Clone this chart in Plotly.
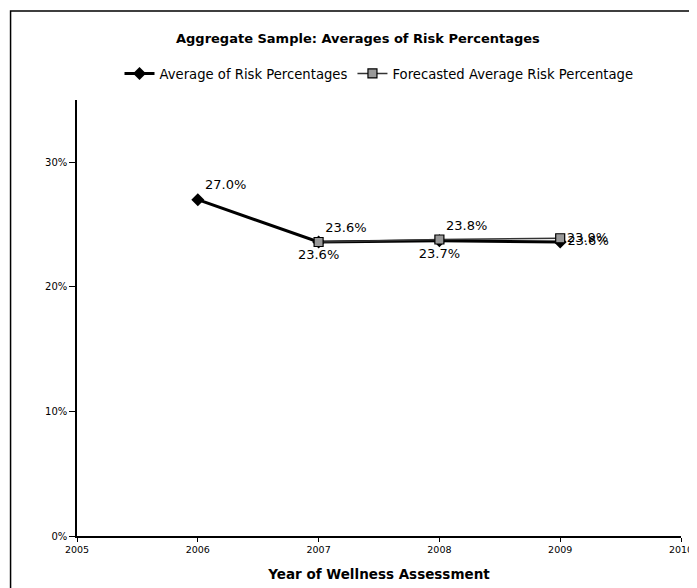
import plotly.graph_objects as go

years = [2006, 2007, 2008, 2009]
actual = [0.270, 0.236, 0.237, 0.236]
forecast_years = [2007, 2008, 2009]
forecast = [0.236, 0.238, 0.239]
actual_labels = ["27.0%", "23.6%", "23.7%", "23.6%"]
forecast_labels = ["23.6%", "23.8%", "23.9%"]
y_ticks = [0, 0.1, 0.2, 0.3]
y_ticklabels = ["0%", "10%", "20%", "30%"]
x_ticks = [2005, 2006, 2007, 2008, 2009, 2010]

FONT = "DejaVu Sans"

fig = go.Figure()
fig.add_trace(go.Scatter(
    x=years, y=actual, name="Average of Risk Percentages",
    mode="lines+markers+text",
    line=dict(color="black", width=3),
    marker=dict(symbol="diamond", size=10, color="black"),
    text=actual_labels,
    textposition=["top right", "bottom center", "bottom center", "middle right"],
    textfont=dict(family=FONT, size=13, color="black"),
))
fig.add_trace(go.Scatter(
    x=forecast_years, y=forecast, name="Forecasted Average Risk Percentage",
    mode="lines+markers+text",
    line=dict(color="#333333", width=1.5),
    marker=dict(symbol="square", size=9, color="#999999", line=dict(color="black", width=1.2)),
    text=forecast_labels,
    textposition=["top right", "top right", "middle right"],
    textfont=dict(family=FONT, size=13, color="black"),
))

fig.update_layout(
    width=697, height=588,
    margin=dict(l=69, r=18, t=92, b=60),
    paper_bgcolor="white", plot_bgcolor="white",
    font=dict(family=FONT, color="black"),
    title=dict(text="<b>Aggregate Sample: Averages of Risk Percentages</b>",
               x=0.502, xanchor="center", y=0.949, yanchor="middle",
               font=dict(family=FONT, size=13, color="black")),
    legend=dict(orientation="h", x=0.5, xanchor="center", y=1.06, yanchor="middle",
                font=dict(family=FONT, size=13.2, color="black"),
                itemwidth=30, tracegroupgap=0, bgcolor="rgba(0,0,0,0)"),
    showlegend=True,
    xaxis=dict(range=[2005, 2010], tickvals=x_ticks, ticktext=[str(v) for v in x_ticks],
               showgrid=False, zeroline=False, showline=True, linecolor="black", linewidth=1.5,
               ticks="outside", ticklen=4, tickcolor="black",
               tickfont=dict(family=FONT, size=9.5, color="black"),
               title=dict(text="<b>Year of Wellness Assessment</b>",
                          font=dict(family=FONT, size=13.5, color="black"), standoff=15)),
    yaxis=dict(range=[0, 0.35], tickvals=y_ticks, ticktext=y_ticklabels,
               showgrid=False, zeroline=False, showline=True, linecolor="black", linewidth=1.5,
               ticks="outside", ticklen=6, tickcolor="black",
               tickfont=dict(family=FONT, size=10, color="black")),
)

fig.add_shape(type="rect", xref="paper", yref="paper",
              x0=-0.110, x1=1.06, y0=-0.16, y1=1.204,
              line=dict(color="black", width=1.5), fillcolor="rgba(0,0,0,0)", layer="below")

fig.write_html("out.html")
